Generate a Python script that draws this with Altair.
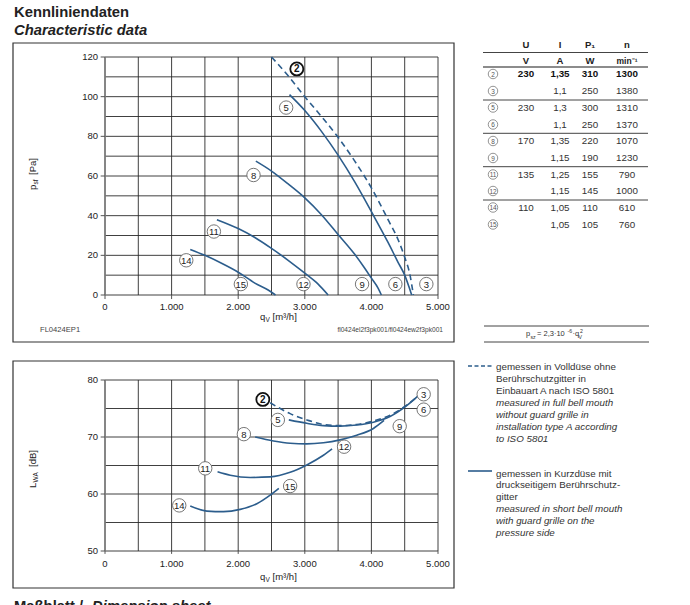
import altair as alt
import pandas as pd

# ---------------- data ----------------
Q_GRID = [0, 500, 1000, 1500, 2000, 2500, 3000, 3500, 4000, 4500, 5000]
P_GRID = [0, 10, 20, 30, 40, 50, 60, 70, 80, 90, 100, 110, 120]
L_GRID = [50, 55, 60, 65, 70, 75, 80]
Q_TICKS = [0, 1000, 2000, 3000, 4000, 5000]
Q_TICK_LABELS = ["0", "1.000", "2.000", "3.000", "4.000", "5.000"]
P_TICKS = [0, 20, 40, 60, 80, 100, 120]
L_TICKS = [50, 60, 70, 80]

# pressure curves (q in m3/h, p in Pa)
P2_Q = [2500, 2750, 3000, 3250, 3500, 3750, 4000, 4250, 4400, 4500, 4580, 4630]
P2_P = [120, 110.5, 100, 90, 79.5, 67.5, 54, 38, 28, 19, 10, 0]
P5_Q = [2770, 3000, 3250, 3500, 3750, 4000, 4250, 4400, 4500, 4560, 4605]
P5_P = [101, 93, 82.5, 70.5, 57, 42, 26.5, 16.5, 10, 4.5, 0]
P8_Q = [2265, 2500, 2750, 3000, 3250, 3500, 3750, 3900, 4000, 4100, 4150]
P8_P = [67.5, 62.5, 56, 49, 40.5, 30.5, 20.5, 13.5, 8.5, 3.5, 0]
P11_Q = [1680, 2000, 2250, 2500, 2750, 3000, 3200, 3350]
P11_P = [38, 33.5, 29, 23.5, 17.5, 11, 5.5, 0]
P14_Q = [1280, 1500, 1750, 2000, 2250, 2450, 2560]
P14_P = [23, 20, 16, 11.5, 6, 2.5, 0]

# sound power curves (q in m3/h, L in dB)
L2_Q = [2480, 2780, 3030, 3280, 3530, 3780, 4030, 4280, 4530, 4700]
L2_L = [76.0, 74.1, 73.0, 72.2, 72.0, 72.2, 72.8, 73.8, 75.6, 77.2]
L5_Q = [2760, 3030, 3280, 3530, 3780, 4030, 4280, 4530, 4710]
L5_L = [73.0, 72.4, 72.0, 71.9, 72.1, 72.6, 73.6, 75.5, 77.3]
L8_Q = [2255, 2530, 2780, 3030, 3280, 3530, 3780, 4030, 4190]
L8_L = [70.0, 69.3, 68.9, 68.8, 69.0, 69.5, 70.3, 71.5, 72.9]
L11_Q = [1690, 1880, 2180, 2480, 2780, 3030, 3280, 3410]
L11_L = [63.9, 63.3, 62.9, 63.0, 63.8, 65.1, 66.8, 67.9]
L14_Q = [1280, 1530, 1780, 2030, 2280, 2480, 2610]
L14_L = [57.9, 57.0, 56.9, 57.3, 58.3, 59.8, 61.0]

LABEL_IDS = ["2", "5", "8", "11", "14", "15", "12", "9", "6", "3"]
P_LABEL_Q = [2880, 2720, 2230, 1635, 1220, 2040, 2980, 3860, 4360, 4825]
P_LABEL_P = [114, 94.5, 60.5, 32, 17.5, 5.5, 5.5, 5.5, 5.5, 5.5]
L_LABEL_Q = [2370, 2595, 2085, 1505, 1115, 2780, 3590, 4425, 4785, 4785]
L_LABEL_L = [76.6, 73.0, 70.5, 64.5, 58.0, 61.4, 68.3, 71.9, 74.8, 77.5]

# table
T_IDS = ["2", "3", "5", "6", "8", "9", "11", "12", "14", "15"]
T_U = ["230", "", "230", "", "170", "", "135", "", "110", ""]
T_I = ["1,35", "1,1", "1,3", "1,1", "1,35", "1,15", "1,25", "1,15", "1,05", "1,05"]
T_P = ["310", "250", "300", "250", "220", "190", "155", "145", "110", "105"]
T_N = ["1300", "1380", "1310", "1370", "1070", "1230", "790", "1000", "610", "760"]

# ---------------- layout / style ----------------
FONT = "Liberation Sans"
INK = "#222222"
LINE = "#2c5d8c"
GRID = "#2a2a2a"
X_RANGE = [105, 438]
TOP_Y_RANGE = [295, 57]
BOT_Y_RANGE = [551, 380]
ROW_Y = [74, 91, 107.5, 124.5, 141, 158, 174.5, 191, 207.5, 224.5]
COL_X = {"U": 526, "I": 560, "P": 590, "N": 627}
CIRCLE_X = 493


def qs():
    return alt.Scale(domain=[0, 5000], range=X_RANGE, nice=False, zero=False)


def ps():
    return alt.Scale(domain=[0, 120], range=TOP_Y_RANGE, nice=False, zero=False)


def ls():
    return alt.Scale(domain=[50, 80], range=BOT_Y_RANGE, nice=False, zero=False)


def X(f):
    return alt.X(f, type="quantitative", scale=qs(), axis=None)


def Y(f, sc):
    return alt.Y(f, type="quantitative", scale=sc, axis=None)


def txt(rows, size=9.5, weight="normal", style="normal", align="left",
        baseline="middle", angle=0, color=INK):
    df = pd.DataFrame(rows, columns=["px", "py", "t"])
    return alt.Chart(df).mark_text(
        font=FONT, fontSize=size, fontWeight=weight, fontStyle=style,
        align=align, baseline=baseline, angle=angle, color=color
    ).encode(x=alt.X("px:Q", scale=None), y=alt.Y("py:Q", scale=None), text="t:N")


def hrule(rows, color=GRID, width=1.0, dash=None):
    df = pd.DataFrame(rows, columns=["x0", "x1", "y0"])
    kw = dict(color=color, strokeWidth=width)
    if dash:
        kw["strokeDash"] = dash
    return alt.Chart(df).mark_rule(**kw).encode(
        x=alt.X("x0:Q", scale=None), x2="x1:Q", y=alt.Y("y0:Q", scale=None))


def frame(x0, x1, y0, y1):
    df = pd.DataFrame({"x0": [x0], "x1": [x1], "y0": [y0], "y1": [y1]})
    return alt.Chart(df).mark_rect(fillOpacity=0, stroke="#333333", strokeWidth=1.2).encode(
        x=alt.X("x0:Q", scale=None), x2="x1:Q", y=alt.Y("y0:Q", scale=None), y2="y1:Q")


def panel(vgrid, vticks, lo, hi, sc, curves_solid, curve_dashed, lab_q, lab_v, ylab_dy):
    layers = []
    vg = pd.DataFrame({"q": Q_GRID, "a": lo, "b": hi})
    layers.append(alt.Chart(vg).mark_rule(color=GRID, strokeWidth=0.9).encode(
        x=X("q"), y=Y("a", sc), y2="b"))
    hg = pd.DataFrame({"v": vgrid, "a": 0, "b": 5000})
    layers.append(alt.Chart(hg).mark_rule(color=GRID, strokeWidth=0.9).encode(
        y=Y("v", sc), x=X("a"), x2="b"))
    la = pd.DataFrame({"q": [0], "a": [lo], "b": [hi]})
    layers.append(alt.Chart(la).mark_rule(color="#808080", strokeWidth=1.6).encode(
        x=X("q"), y=Y("a", sc), y2="b"))
    yt = pd.DataFrame({"v": vticks, "a": -65, "b": 0})
    layers.append(alt.Chart(yt).mark_rule(color="#555555", strokeWidth=1).encode(
        y=Y("v", sc), x=X("a"), x2="b"))
    span = hi - lo
    xt = pd.DataFrame({"q": Q_TICKS, "a": lo - span * 0.017, "b": lo})
    layers.append(alt.Chart(xt).mark_rule(color="#555555", strokeWidth=1).encode(
        x=X("q"), y=Y("a", sc), y2="b"))
    rows = []
    for cid, qq, vv in curves_solid:
        for a, b in zip(qq, vv):
            rows.append({"c": cid, "q": a, "v": b})
    sdf = pd.DataFrame(rows)
    layers.append(alt.Chart(sdf).mark_line(color=LINE, strokeWidth=1.6, interpolate="monotone").encode(
        x=X("q"), y=Y("v", sc), detail="c:N"))
    cid, qq, vv = curve_dashed
    ddf = pd.DataFrame({"c": cid, "q": qq, "v": vv})
    layers.append(alt.Chart(ddf).mark_line(color=LINE, strokeWidth=1.6, strokeDash=[6, 4],
                                           interpolate="monotone").encode(
        x=X("q"), y=Y("v", sc), detail="c:N"))
    lab = pd.DataFrame({"id": LABEL_IDS, "q": lab_q, "v": lab_v})
    normal = lab[lab["id"] != "2"]
    bold = lab[lab["id"] == "2"]
    layers.append(alt.Chart(normal).mark_point(shape="circle", size=180, filled=True, fill="white",
                                               stroke="#666666", strokeWidth=0.9, opacity=1).encode(
        x=X("q"), y=Y("v", sc)))
    layers.append(alt.Chart(normal).mark_text(font=FONT, fontSize=9.5, color=INK, baseline="middle",
                                              align="center", dy=0.5).encode(
        x=X("q"), y=Y("v", sc), text="id:N"))
    layers.append(alt.Chart(bold).mark_point(shape="circle", size=170, filled=True, fill="white",
                                             stroke="#111111", strokeWidth=1.8, opacity=1).encode(
        x=X("q"), y=Y("v", sc)))
    layers.append(alt.Chart(bold).mark_text(font=FONT, fontSize=10, fontWeight="bold", color="#111111",
                                            baseline="middle", align="center", dy=0.5).encode(
        x=X("q"), y=Y("v", sc), text="id:N"))
    xl = pd.DataFrame({"q": Q_TICKS, "v": lo, "t": Q_TICK_LABELS})
    layers.append(alt.Chart(xl).mark_text(font=FONT, fontSize=9.5, color=INK, baseline="middle",
                                          align="center", dy=ylab_dy).encode(
        x=X("q"), y=Y("v", sc), text="t:N"))
    yl = pd.DataFrame({"q": 0, "v": vticks, "t": [str(v) for v in vticks]})
    layers.append(alt.Chart(yl).mark_text(font=FONT, fontSize=9.5, color=INK, baseline="middle",
                                          align="right", dx=-7).encode(
        x=X("q"), y=Y("v", sc), text="t:N"))
    return layers


layers = []

# titles & frames
layers.append(txt([(14, 17, "Kennliniendaten")], size=14.8, weight="bold", baseline="alphabetic"))
layers.append(txt([(14, 35, "Characteristic data")], size=14.8, weight="bold", style="italic",
                  baseline="alphabetic"))
layers.append(txt([(14, 611, "Maßblatt / ")], size=14.8, weight="bold", baseline="alphabetic"))
layers.append(txt([(92, 611, "Dimension sheet")], size=14.8, weight="bold", style="italic",
                  baseline="alphabetic"))
layers.append(frame(13, 454, 43, 342))
layers.append(frame(13, 454, 361, 588))

layers += panel(P_GRID, P_TICKS, 0, 120, ps(),
                [("5", P5_Q, P5_P), ("8", P8_Q, P8_P), ("11", P11_Q, P11_P), ("14", P14_Q, P14_P)],
                ("2", P2_Q, P2_P), P_LABEL_Q, P_LABEL_P, 12)
layers += panel(L_GRID, L_TICKS, 50, 80, ls(),
                [("5", L5_Q, L5_L), ("8", L8_Q, L8_L), ("11", L11_Q, L11_L), ("14", L14_Q, L14_L)],
                ("2", L2_Q, L2_L), L_LABEL_Q, L_LABEL_L, 13)

# axis titles
for ty in (317, 577):
    layers.append(txt([(260, ty, "q")], size=9.5))
    layers.append(txt([(265.5, ty + 3, "V")], size=6.5))
    layers.append(txt([(272.5, ty, "[m³/h]")], size=9.5))
layers.append(txt([(33, 190, "p"), (33, 175, "[Pa]")], size=9.5, angle=270))
layers.append(txt([(36, 184.5, "sf")], size=6.5, angle=270))
layers.append(txt([(33, 488, "L"), (33, 467, "[dB]")], size=9.5, angle=270))
layers.append(txt([(36, 482.5, "WA")], size=6.5, angle=270))

# footnotes in top frame
layers.append(txt([(40, 330, "FL0424EP1")], size=7.6, color="#444444"))
layers.append(txt([(443, 330, "fl0424el2f3pk001/fl0424ew2f3pk001")], size=6.6, align="right",
                  color="#444444"))

# table
layers.append(hrule([(483, 648, 52.5), (483, 648, 100), (483, 648, 133.3), (483, 648, 166.7),
                     (483, 648, 200)], width=1.0, color="#444444"))
layers.append(hrule([(483, 648, 67)], width=1.6, color="#666666"))
layers.append(txt([(COL_X["U"], 45, "U"), (COL_X["I"], 45, "I"), (COL_X["P"], 45, "P₁"),
                   (COL_X["N"], 45, "n"), (COL_X["U"], 60.5, "V"), (COL_X["I"], 60.5, "A"),
                   (COL_X["P"], 60.5, "W")], size=9.5, weight="bold", align="center"))
layers.append(txt([(COL_X["N"], 60.5, "min⁻¹")], size=8.5, weight="bold", align="center"))

trows_bold, trows = [], []
for i, (u, ii, p, n) in enumerate(zip(T_U, T_I, T_P, T_N)):
    tgt = trows_bold if T_IDS[i] == "2" else trows
    for key, val in (("U", u), ("I", ii), ("P", p), ("N", n)):
        if val:
            tgt.append((COL_X[key], ROW_Y[i], val))
layers.append(txt(trows, size=9.8, align="center", color="#333333"))
layers.append(txt(trows_bold, size=9.8, weight="bold", align="center", color="#111111"))
tc = pd.DataFrame({"px": CIRCLE_X, "py": ROW_Y, "t": T_IDS})
layers.append(alt.Chart(tc).mark_point(shape="circle", size=90, filled=True, fill="white",
                                       stroke="#777777", strokeWidth=0.8, opacity=1).encode(
    x=alt.X("px:Q", scale=None), y=alt.Y("py:Q", scale=None)))
layers.append(alt.Chart(tc).mark_text(font=FONT, fontSize=6.5, color="#555555", align="center",
                                      baseline="middle", dy=0.5).encode(
    x=alt.X("px:Q", scale=None), y=alt.Y("py:Q", scale=None), text="t:N"))

# formula
layers.append(hrule([(484, 649, 326), (484, 649, 342)], width=1.0, color="#444444"))
layers.append(txt([(526, 334, "p"), (537, 334, "= 2,3·10"), (572.5, 334, "·q")], size=7.5,
                  color="#333333"))
layers.append(txt([(530.5, 337, "sz"), (578.5, 337, "V")], size=5.2, color="#333333"))
layers.append(txt([(567.5, 330.5, "-6"), (580, 330.5, "2")], size=5.2, color="#333333"))

# legend
layers.append(hrule([(468, 492, 366)], color=LINE, width=1.6, dash=[4, 2.5]))
layers.append(hrule([(468, 492, 471)], color=LINE, width=1.6))
layers.append(txt([(496, 367, "gemessen in Volldüse ohne"), (496, 379, "Berührschutzgitter in"),
                   (496, 391, "Einbauart A nach ISO 5801"),
                   (496, 473.5, "gemessen in Kurzdüse mit"),
                   (496, 485, "druckseitigem Berührschutz-"), (496, 497, "gitter")],
                  size=9.8, color="#333333"))
layers.append(txt([(496, 403, "measured in full bell mouth"), (496, 415, "without guard grille in"),
                   (496, 427, "installation type A according"), (496, 439, "to ISO 5801"),
                   (496, 509, "measured in short bell mouth"), (496, 521, "with guard grille on the"),
                   (496, 533, "pressure side")],
                  size=9.8, style="italic", color="#333333"))

chart = alt.layer(*layers).resolve_scale(x="independent", y="independent").properties(
    width=690, height=605, autosize=alt.AutoSizeParams(type="none"), padding=0,
    background="white"
).configure_view(strokeWidth=0)

chart.save("out.html", embed_options={"renderer": "svg", "actions": False})
